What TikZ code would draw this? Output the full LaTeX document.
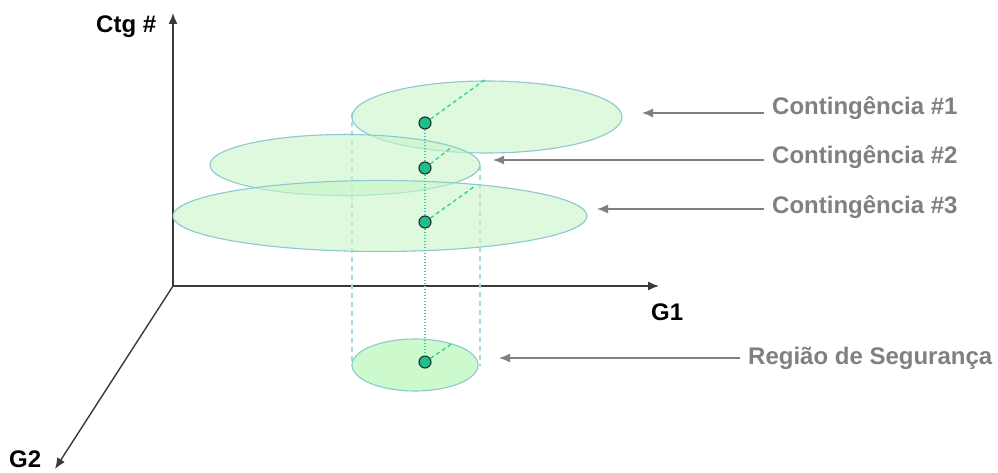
\documentclass[tikz,border=0pt]{standalone}
\usepackage{fontspec}
\setmainfont{Liberation Sans}
\usetikzlibrary{arrows.meta,shapes.geometric}
\definecolor{axiscol}{HTML}{3A3A3A}
\definecolor{labgray}{HTML}{808080}
\definecolor{ellline}{HTML}{8CC8D0}
\definecolor{ellfill}{HTML}{C8F5C8}
\definecolor{regfill}{HTML}{CCFACC}
\definecolor{dotfill}{HTML}{1DBF8C}
\definecolor{dashcol}{HTML}{3CCF9C}
\definecolor{guidecol}{HTML}{A8D8E0}
\tikzset{
  axis/.style={draw=axiscol,line width=1.4bp,-{Latex[length=11bp,width=9bp]}},
  axlabel/.style={font=\fontsize{24bp}{28bp}\selectfont\bfseries,text=black,inner sep=0pt,anchor=west},
  sidelabel/.style={font=\fontsize{24bp}{28bp}\selectfont\bfseries,text=labgray,inner sep=0pt,anchor=west},
  pointer/.style={draw=labgray,line width=1.4bp,-{Latex[length=11bp,width=9bp]}},
  ctgell/.style={ellipse,draw=ellline,line width=1.1bp,fill=ellfill,fill opacity=0.6,inner sep=0pt},
  regell/.style={ellipse,draw=ellline,line width=1.1bp,fill=regfill,inner sep=0pt},
  pt/.style={circle,draw=black!85,line width=1.1bp,fill=dotfill,minimum size=12bp,inner sep=0pt},
  diag/.style={draw=dashcol,line width=1.4bp,dash pattern=on 4bp off 3bp},
  guide/.style={draw=guidecol,line width=1.2bp,dash pattern=on 5bp off 4bp},
  vdot/.style={draw=dashcol,line width=1.1bp,dash pattern=on 1.2bp off 1.8bp}
}
\begin{document}
\begin{tikzpicture}[x=1bp,y=-1bp]
\useasboundingbox (0,0) rectangle (998,473);
% axes
\coordinate (O) at (173,286);
\coordinate (Ytop) at (173,13);
\coordinate (Xend) at (659,286);
\coordinate (Zend) at (55,469);
\draw[axis] (O) -- (Ytop);
\draw[axis] (O) -- (Xend);
\draw[axis] (O) -- (Zend);
\node[axlabel] (ctg) at (96,27) {Ctg \#};
\node[axlabel] (g1) at (651,312) {G1};
\node[axlabel] (g2) at (9,459) {G2};
% guide lines
\coordinate (gl1) at (352,113);
\coordinate (gl2) at (352,366);
\coordinate (gr1) at (480,166);
\coordinate (gr2) at (480,366);
\draw[guide] (gl1) -- (gl2);
\draw[guide] (gr1) -- (gr2);
% ellipses
\node[ctgell,minimum width=270bp,minimum height=72bp] (e1) at (487,117) {};
\node[ctgell,minimum width=270bp,minimum height=61bp] (e2) at (345,165) {};
\node[ctgell,minimum width=414bp,minimum height=71bp] (e3) at (380,216) {};
\node[regell,minimum width=126bp,minimum height=52bp] (er) at (415,365) {};
% diagonal dashes
\coordinate (d1) at (486,79);
\coordinate (d2) at (452,147);
\coordinate (d3) at (475,186);
\coordinate (dr) at (453,343);
% points
\node[pt] (p1) at (425,123) {};
\node[pt] (p2) at (425,168) {};
\node[pt] (p3) at (425,222) {};
\node[pt] (pr) at (425,362) {};
\draw[vdot] (p1) -- (p2);
\draw[vdot] (p2) -- (p3);
\draw[vdot] (p3) -- (pr);
\draw[diag] (p1) -- (d1);
\draw[diag] (p2) -- (d2);
\draw[diag] (p3) -- (d3);
\draw[diag] (pr) -- (dr);
% labels
\node[sidelabel] (t1) at (772,108) {Contingência \#1};
\node[sidelabel] (t2) at (772,157) {Contingência \#2};
\node[sidelabel] (t3) at (772,207) {Contingência \#3};
\node[sidelabel] (tr) at (748,358) {Região de Segurança};
\coordinate (a1s) at (764,113);
\coordinate (a1e) at (642,113);
\coordinate (a2s) at (764,160);
\coordinate (a2e) at (493,160);
\coordinate (a3s) at (764,209);
\coordinate (a3e) at (597,209);
\coordinate (ars) at (740,358);
\coordinate (are) at (499,358);
\draw[pointer] (a1s) -- (a1e);
\draw[pointer] (a2s) -- (a2e);
\draw[pointer] (a3s) -- (a3e);
\draw[pointer] (ars) -- (are);
\end{tikzpicture}
\end{document}
